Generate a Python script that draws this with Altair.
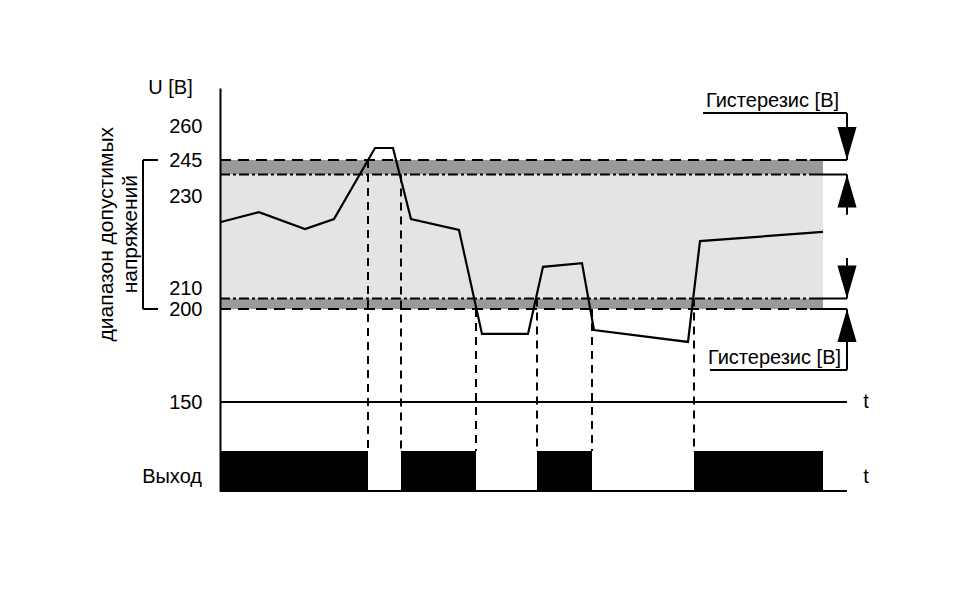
import altair as alt
import pandas as pd

# ---------------- data ----------------
# supply voltage curve: time units / volts
curve_t = [0, 3.9, 8.5, 11.4, 15.5, 17.3, 19.1, 23.9, 26.2, 30.8, 32.3, 36.2, 37.4, 46.8, 48.0, 60.3]
curve_u = [224.3, 226.5, 222.8, 225.0, 250.3, 250.3, 225.0, 222.6, 186.6, 186.6, 214.6, 215.4, 188.7, 182.3, 220.2, 222.2]

axis_ticks = [150, 200, 210, 230, 245, 260]
thr_switch = [245, 200]        # switching thresholds (dashed)
thr_release = [239, 205]       # release thresholds after hysteresis (dash-dot)
band_end = 60.3
line_end = 62.7
solid_from = 59.0

# output relay state
OUT_LOW, OUT_HIGH = 0, 1
out_on_start = [0, 18.1, 31.7, 47.4]
out_on_end = [14.8, 25.6, 37.2, 60.3]
switch_t = [14.8, 18.1, 25.6, 31.7, 37.2, 47.4]
switch_u = [245, 239, 200, 205, 200, 205]

# hysteresis annotation
arrow_tip_down = [245, 205]
arrow_tip_up = [239, 200]
stem_from = [265.8, 239, 216.5, 200]
stem_to = [245, 225.9, 205, 167.2]
leader_u = [265.8, 167.2]
leader_t0 = [48.3, 49.0]
hyst_text = ["Гистерезис [В]", "Гистерезис [В]"]
hyst_text_t = [55.25, 55.45]
hyst_text_u = [271.2, 173.9]

range_label = ["диапазон допустимых", "напряжений"]
range_label_t = [-11.3, -8.9]
range_label_u = [221.7, 221.7]
bracket_t = [-7.7, -6.2]

FONT = "Liberation Sans"
FS = 20

yscale = alt.Scale(domain=[0, 1, 150, 200, 210, 230, 245, 260, 277],
                   range=[411, 371, 322, 229, 208, 116, 80, 46, 8],
                   nice=False, zero=False)
xscale = alt.Scale(domain=[0, 66], nice=False, zero=False)
yaxis = alt.Axis(values=axis_ticks, title="U [В]", ticks=False, tickSize=0, grid=False,
                 labelPadding=18, labelFont=FONT, labelFontSize=FS, labelColor="black",
                 labelOverlap=False, labelFlush=False,
                 domainColor="black", domainWidth=2, zindex=1,
                 titleAngle=0, titleX=-50, titleY=7, titleAlign="center",
                 titleBaseline="middle", titleFont=FONT, titleFontSize=FS,
                 titleFontWeight="normal", titleColor="black")


def X(f):
    return alt.X(f"{f}:Q", scale=xscale, axis=None)


def X2(f):
    return alt.X2(f"{f}:Q")


def Y(f):
    return alt.Y(f"{f}:Q", scale=yscale, axis=yaxis)


def Y2(f):
    return alt.Y2(f"{f}:Q")


# bands
bands = pd.DataFrame({
    "t0": [0, 0, 0], "t1": [band_end] * 3,
    "u0": [thr_release[0], thr_switch[1], thr_release[1]],
    "u1": [thr_switch[0], thr_release[1], thr_release[0]],
    "kind": ["hyst", "hyst", "ok"],
})
band_layer = alt.Chart(bands).mark_rect().encode(
    x=X("t0"), x2=X2("t1"), y=Y("u0"), y2=Y2("u1"),
    color=alt.Color("kind:N", scale=alt.Scale(domain=["hyst", "ok"], range=["#9a9a9a", "#e4e4e4"]), legend=None),
)

dashed = alt.Chart(pd.DataFrame({"u": thr_switch, "t0": 0, "t1": solid_from})).mark_rule(
    color="black", strokeWidth=2, strokeDash=[11, 7]).encode(x=X("t0"), x2=X2("t1"), y=Y("u"))
dashdot = alt.Chart(pd.DataFrame({"u": thr_release, "t0": 0, "t1": solid_from})).mark_rule(
    color="black", strokeWidth=2, strokeDash=[10, 3, 3, 3]).encode(x=X("t0"), x2=X2("t1"), y=Y("u"))
solid_ends = alt.Chart(pd.DataFrame({"u": thr_switch + thr_release, "t0": solid_from, "t1": line_end})).mark_rule(
    color="black", strokeWidth=2).encode(x=X("t0"), x2=X2("t1"), y=Y("u"))

time_axes = alt.Chart(pd.DataFrame({"u": [150, OUT_LOW], "t0": 0, "t1": line_end})).mark_rule(
    color="black", strokeWidth=2).encode(x=X("t0"), x2=X2("t1"), y=Y("u"))

curve = alt.Chart(pd.DataFrame({"t": curve_t, "u": curve_u})).mark_line(
    color="black", strokeWidth=2.2).encode(x=X("t"), y=Y("u"))

switches = alt.Chart(pd.DataFrame({"t": switch_t, "u": switch_u, "hi": OUT_HIGH})).mark_rule(
    color="black", strokeWidth=2, strokeDash=[8, 6]).encode(x=X("t"), y=Y("u"), y2=Y2("hi"))

output = alt.Chart(pd.DataFrame({"t0": out_on_start, "t1": out_on_end, "lo": OUT_LOW, "hi": OUT_HIGH})).mark_rect(
    color="black").encode(x=X("t0"), x2=X2("t1"), y=Y("lo"), y2=Y2("hi"))

stems = alt.Chart(pd.DataFrame({"u0": stem_from, "u1": stem_to, "t": line_end})).mark_rule(
    color="black", strokeWidth=2).encode(x=X("t"), y=Y("u0"), y2=Y2("u1"))
leaders = alt.Chart(pd.DataFrame({"u": leader_u, "t0": leader_t0, "t1": line_end})).mark_rule(
    color="black", strokeWidth=2).encode(x=X("t0"), x2=X2("t1"), y=Y("u"))

heads_down = alt.Chart(pd.DataFrame({"u": arrow_tip_down, "t": line_end})).mark_point(
    filled=True, color="black", opacity=1, size=4356, shape="M0,0L-0.29,-1L0.29,-1Z").encode(x=X("t"), y=Y("u"))
heads_up = alt.Chart(pd.DataFrame({"u": arrow_tip_up, "t": line_end})).mark_point(
    filled=True, color="black", opacity=1, size=4356, shape="M0,0L-0.29,1L0.29,1Z").encode(x=X("t"), y=Y("u"))

hyst_labels = alt.Chart(pd.DataFrame({"s": hyst_text, "t": hyst_text_t, "u": hyst_text_u})).mark_text(
    font=FONT, fontSize=FS, color="black", align="center", baseline="middle").encode(
    x=X("t"), y=Y("u"), text="s:N")

t_labels = alt.Chart(pd.DataFrame({"s": ["t", "t"], "t": 64.6, "u": [150, 0.35]})).mark_text(
    font=FONT, fontSize=FS, color="black", align="center", baseline="middle").encode(
    x=X("t"), y=Y("u"), text="s:N")

out_label = alt.Chart(pd.DataFrame({"s": ["Выход"], "t": [-1.8], "u": [0.35]})).mark_text(
    font=FONT, fontSize=FS, color="black", align="right", baseline="middle").encode(
    x=X("t"), y=Y("u"), text="s:N")

range_labels = alt.Chart(pd.DataFrame({"s": range_label, "t": range_label_t, "u": range_label_u})).mark_text(
    font=FONT, fontSize=21, color="black", align="center", baseline="middle", angle=270).encode(
    x=X("t"), y=Y("u"), text="s:N")

bracket_v = alt.Chart(pd.DataFrame({"t": [bracket_t[0]], "u0": [thr_switch[0]], "u1": [thr_switch[1]]})).mark_rule(
    color="black", strokeWidth=2).encode(x=X("t"), y=Y("u0"), y2=Y2("u1"))
bracket_h = alt.Chart(pd.DataFrame({"u": thr_switch, "t0": bracket_t[0], "t1": bracket_t[1]})).mark_rule(
    color="black", strokeWidth=2).encode(x=X("t0"), x2=X2("t1"), y=Y("u"))

chart = alt.layer(
    band_layer, dashed, dashdot, solid_ends, time_axes, curve, switches, output,
    stems, leaders, heads_down, heads_up, hyst_labels, t_labels, out_label,
    range_labels, bracket_v, bracket_h,
).properties(
    width=660, height=420,
    padding={"left": 212, "top": 72, "right": 60, "bottom": 50},
    autosize=alt.AutoSizeParams(type="none"),
).configure(background="white").configure_view(stroke=None)

chart.save("out.html", embed_options={"renderer": "svg", "actions": False})
